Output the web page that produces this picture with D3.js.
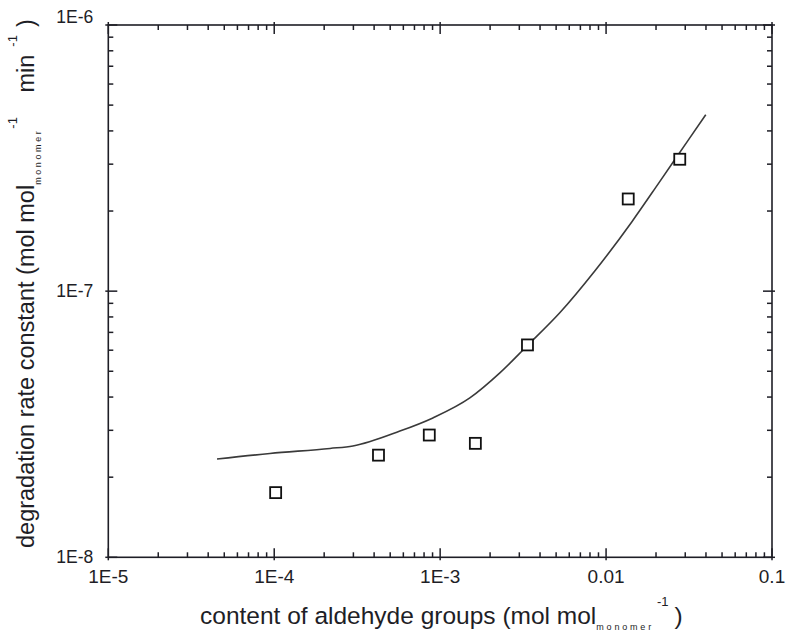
<!DOCTYPE html>
<html>
<head>
<meta charset="utf-8">
<script src="https://cdn.jsdelivr.net/npm/d3@7"></script>
<style>
body { margin: 0; background: #fff; }
svg { font-family: "Liberation Sans", Arial, sans-serif; }
</style>
</head>
<body>
<svg id="svg" width="786" height="635"></svg>
<script>
// measured points (content of aldehyde groups, rate constant)
let pointX = [1.02e-4, 4.25e-4, 8.6e-4, 1.63e-3, 3.36e-3, 1.36e-2, 2.78e-2];
let pointY = [1.75e-8, 2.42e-8, 2.88e-8, 2.68e-8, 6.28e-8, 2.22e-7, 3.13e-7];

// model curve
let curveX = [4.52e-5, 9.42e-5, 2.17e-4, 2.98e-4, 5.72e-4, 9.04e-4, 1.51e-3, 2.29e-3, 3.36e-3, 5.26e-3, 8.55e-3, 1.428e-2, 2.106e-2, 3.106e-2, 3.99e-2];
let curveY = [2.34e-8, 2.455e-8, 2.565e-8, 2.62e-8, 2.98e-8, 3.34e-8, 3.97e-8, 4.93e-8, 6.25e-8, 8.29e-8, 1.19e-7, 1.82e-7, 2.58e-7, 3.67e-7, 4.6e-7];

let xMajor = [1e-5, 1e-4, 1e-3, 1e-2, 1e-1];
let xLabels = ["1E-5", "1E-4", "1E-3", "0.01", "0.1"];
let yMajor = [1e-8, 1e-7, 1e-6];
let yLabels = ["1E-8", "1E-7", "1E-6"];

let svg = d3.select("#svg");
let plot = {left: 108.3, right: 772, top: 25, bottom: 557.3};
let ink = "#1e1e26";

let xScale = d3.scaleLog().domain([1e-5, 1e-1]).range([plot.left, plot.right]);
let yScale = d3.scaleLog().domain([1e-8, 1e-6]).range([plot.bottom, plot.top]);

function minorTicks(majors) {
	let out = [];
	for (let i = 0; i < majors.length - 1; i++) {
		for (let k = 2; k <= 9; k++) out.push(majors[i] * k);
	}
	return out;
}
let xMinor = minorTicks(xMajor);
let yMinor = minorTicks(yMajor);

let ticks = svg.append("g").attr("stroke", ink).attr("stroke-width", 1.5);

// inward ticks on all four sides, majors poke out a little
function xTicks(values, len, out) {
	ticks.selectAll(null).data(values).enter().append("line")
		.attr("x1", d => xScale(d)).attr("x2", d => xScale(d))
		.attr("y1", plot.bottom + out).attr("y2", plot.bottom - len);
	ticks.selectAll(null).data(values).enter().append("line")
		.attr("x1", d => xScale(d)).attr("x2", d => xScale(d))
		.attr("y1", plot.top - out).attr("y2", plot.top + len);
}
function yTicks(values, len, out) {
	ticks.selectAll(null).data(values).enter().append("line")
		.attr("y1", d => yScale(d)).attr("y2", d => yScale(d))
		.attr("x1", plot.left - out).attr("x2", plot.left + len);
	ticks.selectAll(null).data(values).enter().append("line")
		.attr("y1", d => yScale(d)).attr("y2", d => yScale(d))
		.attr("x1", plot.right + out).attr("x2", plot.right - len);
}
xTicks(xMajor, 9, 3);
xTicks(xMinor, 5, 0);
yTicks(yMajor, 9, 3);
yTicks(yMinor, 5, 0);

// tick labels
svg.append("g").attr("fill", ink).style("font-size", "19px")
	.selectAll("text").data(xMajor).enter().append("text")
	.attr("x", d => xScale(d))
	.attr("y", plot.bottom + 26)
	.attr("text-anchor", "middle")
	.text((d, i) => xLabels[i]);

svg.append("g").attr("fill", ink).style("font-size", "17.5px")
	.selectAll("text").data(yMajor).enter().append("text")
	.attr("x", plot.left - 15)
	.attr("y", d => yScale(d) + (d === 1e-6 ? -8 : 0))
	.attr("dy", "0.35em")
	.attr("text-anchor", "end")
	.text((d, i) => yLabels[i]);

// frame
svg.append("rect")
	.attr("x", plot.left).attr("y", plot.top)
	.attr("width", plot.right - plot.left).attr("height", plot.bottom - plot.top)
	.attr("fill", "none").attr("stroke", ink).attr("stroke-width", 1.6);

// model line
let line = d3.line()
	.x(d => xScale(d[0]))
	.y(d => yScale(d[1]))
	.curve(d3.curveMonotoneX);
svg.append("path")
	.datum(curveX.map((x, i) => [x, curveY[i]]))
	.attr("d", line)
	.attr("fill", "none")
	.attr("stroke", "#3a3a3a")
	.attr("stroke-width", 1.6);

// points
let sq = 11;
svg.selectAll("rect.pt").data(pointX).enter()
	.append("rect")
	.attr("class", "pt")
	.attr("x", (d, i) => xScale(d) - sq / 2)
	.attr("y", (d, i) => yScale(pointY[i]) - sq / 2)
	.attr("width", sq).attr("height", sq)
	.attr("fill", "#fff")
	.attr("stroke", "#111")
	.attr("stroke-width", 1.8);

// axis titles
let xTitle = svg.append("text")
	.attr("x", 200).attr("y", 624)
	.attr("fill", ink)
	.style("font-size", "24.5px");
xTitle.append("tspan").text("content of aldehyde groups (mol mol");
xTitle.append("tspan").attr("dy", 6).style("font-size", "9px").style("letter-spacing", "2.8px").text("monomer");
xTitle.append("tspan").attr("dy", -24).attr("dx", 3).style("font-size", "13px").text("-1");
xTitle.append("tspan").attr("dy", 18).attr("dx", 6).text(")");

let yTitle = svg.append("text")
	.attr("transform", "translate(34,548) rotate(-90)")
	.attr("fill", ink)
	.style("font-size", "23.5px");
yTitle.append("tspan").text("degradation rate constant (mol mol");
yTitle.append("tspan").attr("dy", 7).style("font-size", "9px").style("letter-spacing", "2.6px").text("monomer");
yTitle.append("tspan").attr("dy", -24).style("font-size", "13px").text("-1");
yTitle.append("tspan").attr("dy", 17).attr("dx", 18).text(" min");
yTitle.append("tspan").attr("dy", -17).attr("dx", 8).style("font-size", "13px").text("-1");
yTitle.append("tspan").attr("dy", 17).attr("dx", 8).text(")");
</script>
</body>
</html>
